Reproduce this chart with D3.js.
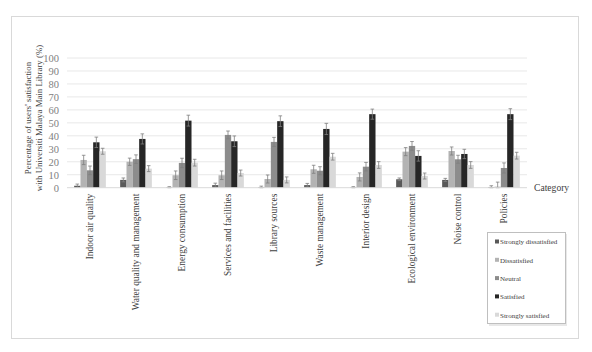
<!DOCTYPE html>
<html><head><meta charset="utf-8">
<script src="https://cdn.jsdelivr.net/npm/d3@7"></script>
<style>body{margin:0;background:#fff}svg{display:block}text{font-family:"Liberation Serif","DejaVu Serif",serif}</style>
</head><body>
<svg id="c" width="592" height="352"></svg>
<script>
const categories = ["Indoor air quality","Water quality and management","Energy consumption","Services and facilities","Library sources","Waste management","Interior design","Ecological environment","Noise control","Policies"];
const seriesNames = ["Strongly dissatisfied","Dissatisfied","Neutral","Satisfied","Strongly satisfied"];
const seriesColors = ["#595959","#b3b3b3","#8c8c8c","#262626","#d9d9d9"];
const stronglyDissatisfied = [1.5, 6, 0.3, 2, 0.4, 2, 0.3, 6.5, 6, 0.5];
const dissatisfied = [21.4, 20, 9.6, 9.6, 6.7, 14.2, 8.3, 27.8, 28.3, 0.8];
const neutral = [13.4, 22, 19.1, 40.7, 35.3, 13.1, 16.2, 32.2, 21.9, 15.2];
const satisfied = [35, 37.6, 51.7, 35.8, 51.3, 45.3, 56.7, 24.5, 26, 56.7];
const stronglySatisfied = [28.1, 14.7, 19.3, 11.3, 6, 23.9, 17.5, 9, 17.5, 24.7];
const errSD = [1.3, 1.5, 0.5, 1.5, 0.8, 1.3, 0.5, 1, 1.2, 1];
const errD = [3.6, 2.8, 3.3, 3.3, 3.1, 3.1, 3.1, 3.1, 3.1, 3.5];
const errN = [3.3, 3.3, 3.6, 3, 3.5, 3.1, 3.3, 3.4, 3.1, 3.9];
const errS = [4, 3.9, 4.2, 4.1, 4.1, 4.3, 3.9, 4, 3.6, 4.2];
const errSS = [2.3, 2.3, 2.6, 2.3, 2.3, 2.6, 2.6, 2.3, 2.6, 2.6];
const yTicks = [0,10,20,30,40,50,60,70,80,90,100];

const values = [stronglyDissatisfied, dissatisfied, neutral, satisfied, stronglySatisfied];
const errs = [errSD, errD, errN, errS, errSS];

const svg = d3.select("#c");
svg.append("rect").attr("x",11.5).attr("y",16.5).attr("width",567).attr("height",322)
  .attr("fill","#fff").attr("stroke","#d9d9d9").attr("stroke-width",1);

const x0 = d3.scaleBand().domain(categories).range([67,527]).paddingInner(0.311).paddingOuter(0.1555);
const x1 = d3.scaleBand().domain(seriesNames).range([0, x0.bandwidth()]);
const y = d3.scaleLinear().domain([0,100]).range([187.7, 58]);

const g = svg.append("g");
g.selectAll("line.grid").data(yTicks.filter(t=>t>0)).join("line")
  .attr("x1",67).attr("x2",527).attr("y1",d=>y(d)).attr("y2",d=>y(d))
  .attr("stroke","#e8e8e8").attr("stroke-width",1);

const yAxis = d3.axisLeft(y).tickValues(yTicks).tickSize(0).tickPadding(8);
const ya = svg.append("g").attr("transform","translate(67,0)").call(yAxis);
ya.select(".domain").remove();
ya.selectAll("text").attr("fill","#808080").style("font-size","10.5px").style("font-family","Liberation Serif, serif");

const groups = svg.append("g").selectAll("g").data(categories).join("g")
  .attr("transform",d=>`translate(${x0(d)},0)`);
groups.selectAll("rect").data((c,i)=>seriesNames.map((s,j)=>({s,j,v:values[j][i],e:errs[j][i]}))).join("rect")
  .attr("x",d=>x1(d.s)).attr("width",x1.bandwidth())
  .attr("y",d=>y(d.v)).attr("height",d=>y(0)-y(d.v))
  .attr("fill",d=>seriesColors[d.j]);
const eb = groups.selectAll("g.eb").data((c,i)=>seriesNames.map((s,j)=>({s,j,v:values[j][i],e:errs[j][i]}))).join("g").attr("class","eb");
const cx = d=>x1(d.s)+x1.bandwidth()/2;
eb.append("line").attr("x1",cx).attr("x2",cx)
  .attr("y1",d=>y(Math.max(0,d.v-d.e))).attr("y2",d=>y(d.v+d.e)).attr("stroke","#7f7f7f").attr("stroke-width",0.8);
eb.append("line").attr("x1",d=>cx(d)-1.8).attr("x2",d=>cx(d)+1.8)
  .attr("y1",d=>y(d.v+d.e)).attr("y2",d=>y(d.v+d.e)).attr("stroke","#7f7f7f").attr("stroke-width",0.8);
eb.append("line").attr("x1",d=>cx(d)-1.8).attr("x2",d=>cx(d)+1.8)
  .attr("y1",d=>y(Math.max(0,d.v-d.e))).attr("y2",d=>y(Math.max(0,d.v-d.e))).attr("stroke","#7f7f7f").attr("stroke-width",0.8);

svg.append("line").attr("x1",67).attr("x2",527).attr("y1",y(0)).attr("y2",y(0)).attr("stroke","#d9d9d9").attr("stroke-width",1);

const xAxis = d3.axisBottom(x0).tickSize(0).tickPadding(0);
const xa = svg.append("g").attr("transform",`translate(0,${y(0)})`).call(xAxis);
xa.select(".domain").remove();
xa.selectAll("text").attr("transform","translate(0,6) rotate(-90)").attr("text-anchor","end")
  .attr("x",0).attr("y",0).attr("dy","0.35em")
  .attr("fill","#404040").style("font-size","9.4px").style("font-family","Liberation Serif, serif");

svg.append("text").attr("x",534).attr("y",y(0)).attr("dy","0.35em").text("Category")
  .attr("fill","#404040").style("font-size","9.6px");

const yt = svg.append("text").attr("fill","#404040").style("font-size","8.8px").attr("text-anchor","middle").attr("transform","rotate(-90)");
yt.append("tspan").attr("x",-118).attr("y",31).text("Percentage of users' satisfaction");
yt.append("tspan").attr("x",-118).attr("y",42).text("with Universiti Malaya Main Library (%)");

const lg = svg.append("g");
lg.append("rect").attr("x",489).attr("y",234).attr("width",78).attr("height",92).attr("fill","#d9d9d9").attr("opacity",0.6);
lg.append("rect").attr("x",487.5).attr("y",232.5).attr("width",78).attr("height",91).attr("fill","#fff").attr("stroke","#bfbfbf").attr("stroke-width",1);
const li = lg.selectAll("g.li").data(seriesNames).join("g").attr("class","li")
  .attr("transform",(d,i)=>`translate(495,${242+i*18.3})`);
li.append("rect").attr("x",0).attr("y",-2.5).attr("width",4).attr("height",4).attr("fill",(d,i)=>seriesColors[i]);
li.append("text").attr("x",5).attr("y",0).attr("dy","0.33em").text(d=>d).attr("fill","#404040").style("font-size","7px");
</script>
</body></html>
